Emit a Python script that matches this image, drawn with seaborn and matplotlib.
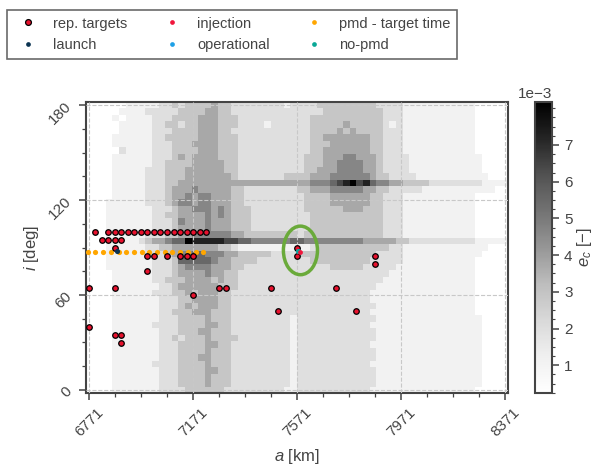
import matplotlib
matplotlib.use("Agg")
import matplotlib.pyplot as plt
import seaborn as sns
import pandas as pd
import numpy as np
from matplotlib.patches import Ellipse
from matplotlib.lines import Line2D
from matplotlib.ticker import FixedLocator, ScalarFormatter

# density map e_c, digits 0-9 mapped linearly to E_MIN..E_MAX
# rows: i from 182 (top) down to -2, 45 cells; columns: a from 6759.5 to 8382.5 km, 64 cells
DENSITY_ROWS = [
    "00000011 11122323 33343322 22222212 22233333 33332222 11111111 11100000",  # i~180
    "00000111 12222233 33443322 22222222 22223333 33333222 11111111 11100000",
    "00001011 11222333 34443332 22222222 22333333 33333222 11111111 11100000",
    "00000111 11223323 34443332 22212222 22333334 33333212 11111111 11100000",
    "00000111 11222333 34443322 22222222 22333343 43333222 11111111 11100000",
    "00001111 11223333 34443332 22222222 22334444 44433222 11111111 11100000",  # i~160
    "00001111 11222333 44443332 22222222 22333444 44433222 11111111 11100000",
    "00000211 11222333 34443332 22222222 22334444 44433222 11111111 11100000",
    "00001111 11222343 44443332 22222222 23334445 54443222 21111111 11110000",
    "00001111 11223333 44444332 22222222 23334455 55443222 21111111 11110000",
    "00001111 12223334 44444332 22222222 23344455 55443222 21111111 11110000",  # i~139
    "00001111 12223334 44444432 22222233 33444555 55543322 22111111 11111000",
    "00001111 12223344 44444444 44444444 44555678 97865544 33332222 22221111",  # i~131
    "00001111 12223444 54444433 22222222 33444555 55443322 22211111 11111100",
    "00001111 12223445 45544433 22222222 23333444 44433222 11111111 11100000",
    "00011111 12223455 45544433 22222222 23333444 44433222 11111111 11100000",  # i~119
    "00011111 11222344 55545433 32222222 23333334 44333222 11111111 11100000",
    "00011111 11223344 44545433 32222222 22333333 33333222 11111111 11100000",
    "00011111 11222354 44544433 32222222 22333333 33333222 11111111 11100000",
    "00011111 11222344 44544433 32222222 22333333 33333222 11111111 11100000",
    "00011111 12223344 55555544 33333333 23333333 33333222 11111111 11100000",  # i~98
    "00011111 23445669 88888776 65555556 65555555 55444443 32222222 22211111",  # i~94
    "00011111 12233444 44443321 11111111 11233333 33333322 11111111 11111000",  # i~90
    "00011111 12223455 66555443 33332222 33333333 33332222 11111111 11110000",
    "00011111 11222366 66654433 33222222 22333333 33322222 11111111 11100000",
    "00011111 11222345 55544433 22222222 22222333 33222221 11111111 11100000",  # i~78
    "00001111 11222344 44544332 22222222 22222222 22222211 11111111 11100000",
    "00001111 11223334 44434332 22222222 22222222 22222111 11111111 11100000",
    "00001111 11122344 44443332 22222222 22222222 22221111 11111111 11100000",
    "00001111 11222334 34443322 22222222 22222222 22211111 11111111 11100000",
    "00001111 11122233 44443322 22222222 22222222 22211111 11111111 11100000",  # i~57
    "00001111 11122234 34443322 22222222 22222222 22221111 11111111 11100000",
    "00001111 11122333 44433322 22222222 22222222 22211111 11111111 11100000",
    "00001111 11122233 33433322 22222221 22222222 22221111 11111111 11110000",
    "00001111 11222233 33443322 22222221 22222222 22211111 11111111 11110000",
    "00001111 11122233 34433322 22222221 22222222 22221111 11111111 11110000",  # i~37
    "00001111 11122323 33433332 22222221 22222222 22221111 11111111 11110000",
    "00001111 11122233 33443322 22222221 22222222 22211111 11111111 11110000",
    "00001111 11122233 33433322 22222221 22222222 22221111 11111111 11110000",
    "00001111 11122233 34433322 22222221 22222222 22221111 11111111 11110000",
    "00001111 11222233 33433322 22222221 22222222 22211111 11111111 11110000",  # i~16
    "00001111 11122233 33443322 22222221 22222222 22221111 11111111 11110000",
    "00001111 11122233 33433322 22222221 22222222 22221111 11111111 11110000",
    "00001111 11122233 33433322 22222221 22222222 22221111 11111111 11110000",
    "00001111 11122223 33333222 22222211 22222222 22211111 11111111 11100000",  # i~0
]
E_MIN, E_MAX = 0.24e-3, 8.17e-3

# rep. targets (a [km], i [deg])
target_a = [6796, 6846, 6871, 6896, 6921, 6946, 6971, 6996, 7021, 7046, 7071, 7096, 7121, 7146, 7171, 7196, 7221,
            6821, 6846, 6871, 6896,
            6871,
            6996, 7021, 7071, 7121, 7146, 7171,
            6996,
            6771, 6871, 7271, 7296, 7471, 7721,
            7171,
            7496, 7796,
            6771,
            6871, 6896,
            6896,
            7571, 7571, 7871, 7871]
target_i = [99.6] * 17 + \
           [94.7] * 4 + \
           [89.5] + \
           [84.6] * 6 + \
           [75.0] + \
           [64.6] * 6 + \
           [59.8] + \
           [50.0] * 2 + \
           [39.8] + \
           [34.7] * 2 + \
           [29.7] + \
           [89.9, 84.6, 84.9, 79.6]

pmd_a = [6766, 6796, 6825, 6855, 6885, 6914, 6944, 6974, 7003, 7033, 7063, 7092, 7122, 7152, 7181, 7211]
pmd_i = [87.5] * 16

launch_a, launch_i = [6880], [88.0]
injection_a, injection_i = [7582], [87.4]
operational_a, operational_i = [7576], [88.0]
nopmd_a, nopmd_i = [7574], [88.0]

C_TARGET = "#e8112d"
C_LAUNCH = "#0b3352"
C_INJ = "#f0163c"
C_OPER = "#1ea0e6"
C_PMD = "#ffa600"
C_NOPMD = "#0aa896"
C_TXT = "#444444"

sns.set_theme(style="ticks")
plt.rcParams["font.family"] = ["Liberation Sans", "DejaVu Sans"]
plt.rcParams["mathtext.fontset"] = "custom"
plt.rcParams["mathtext.rm"] = "Liberation Sans"
plt.rcParams["mathtext.it"] = "Liberation Sans:italic"

grid = np.array([[int(ch) for ch in row.replace(" ", "")] for row in DENSITY_ROWS[::-1]], dtype=float)
grid = E_MIN + grid / 9.0 * (E_MAX - E_MIN)
x_edges = np.linspace(6759.5, 8382.5, grid.shape[1] + 1)
y_edges = np.linspace(-2, 182, grid.shape[0] + 1)

fig = plt.figure(figsize=(5.95, 4.68), dpi=100)
ax = fig.add_axes([0.1445, 0.160, 0.7095, 0.622])
cax = fig.add_axes([0.899, 0.160, 0.029, 0.622])

mesh = ax.pcolormesh(x_edges, y_edges, grid, cmap="Greys", vmin=E_MIN, vmax=E_MAX, zorder=0)

df_t = pd.DataFrame({"a": target_a, "i": target_i})
sns.scatterplot(data=df_t, x="a", y="i", ax=ax, color=C_TARGET, edgecolor="black", linewidth=0.9, s=16, zorder=4, legend=False)
sns.scatterplot(x=pmd_a, y=pmd_i, ax=ax, color=C_PMD, linewidth=0, s=14, zorder=3, legend=False)
sns.scatterplot(x=launch_a, y=launch_i, ax=ax, color=C_LAUNCH, linewidth=0, s=14, zorder=5, legend=False)
sns.scatterplot(x=operational_a, y=operational_i, ax=ax, color=C_OPER, linewidth=0, s=12, zorder=5, legend=False)
sns.scatterplot(x=nopmd_a, y=nopmd_i, ax=ax, color=C_NOPMD, linewidth=0, s=12, zorder=5, legend=False)
sns.scatterplot(x=injection_a, y=injection_i, ax=ax, color=C_INJ, linewidth=0, s=12, zorder=6, legend=False)

ax.add_patch(Ellipse((7584, 88.2), width=131, height=30.7, fill=False, ec="#6aaa3a", lw=2.5, zorder=7))

ax.set_xlim(6759.5, 8382.5)
ax.set_ylim(-2, 182)
ax.set_xticks([6771, 7171, 7571, 7971, 8371])
ax.set_yticks([0, 60, 120, 180])
ax.xaxis.set_minor_locator(FixedLocator(np.arange(6771, 8372, 100)))
ax.yaxis.set_minor_locator(FixedLocator(np.arange(0, 181, 15)))
ax.tick_params(axis="both", which="major", direction="out", length=5, width=1.1, color=C_TXT, labelsize=11, labelcolor=C_TXT)
ax.tick_params(axis="both", which="minor", direction="out", length=3, width=0.9, color=C_TXT)
ax.tick_params(axis="x", labelrotation=45)
ax.tick_params(axis="y", labelrotation=45)
ax.set_axisbelow(False)
ax.grid(True, which="major", ls="--", color="#c8c8c8", lw=0.8)
for sp in ax.spines.values():
    sp.set_color(C_TXT)
    sp.set_linewidth(1.5)

ax.set_xlabel("$a$ [km]", fontsize=12, color=C_TXT, labelpad=6)
ax.set_ylabel("$i$ [deg]", fontsize=12, color=C_TXT)

cbar = fig.colorbar(mesh, cax=cax)
fmt = ScalarFormatter(useMathText=False)
fmt.set_powerlimits((0, 0))
cbar.formatter = fmt
cbar.set_ticks([1e-3, 2e-3, 3e-3, 4e-3, 5e-3, 6e-3, 7e-3])
cbar.ax.yaxis.set_minor_locator(FixedLocator(np.arange(0.25e-3, 8.2e-3, 0.25e-3)))
cbar.ax.tick_params(which="major", length=5, width=1.1, color=C_TXT, labelsize=11, labelcolor=C_TXT)
cbar.ax.tick_params(which="minor", length=2.5, width=0.8, color=C_TXT)
off = cbar.ax.yaxis.get_offset_text()
off.set_fontsize(11)
off.set_color(C_TXT)
cbar.outline.set_edgecolor(C_TXT)
cbar.outline.set_linewidth(1.5)
cbar.set_label("$e_c$ [$-$]", fontsize=12, color=C_TXT, labelpad=2)

handles = [
    Line2D([], [], ls="", marker="o", ms=4.2, mfc=C_TARGET, mec="black", mew=0.9),
    Line2D([], [], ls="", marker="o", ms=3.4, mfc=C_LAUNCH, mec="none"),
    Line2D([], [], ls="", marker="o", ms=3.4, mfc=C_INJ, mec="none"),
    Line2D([], [], ls="", marker="o", ms=3.4, mfc=C_OPER, mec="none"),
    Line2D([], [], ls="", marker="o", ms=3.4, mfc=C_PMD, mec="none"),
    Line2D([], [], ls="", marker="o", ms=3.4, mfc=C_NOPMD, mec="none"),
]
labels = ["rep. targets", "launch", "injection", "operational", "pmd - target time", "no-pmd"]
leg = fig.legend(handles, labels, ncol=3, loc="upper left", bbox_to_anchor=(0.0118, 0.9786),
                 borderaxespad=0, frameon=True, fancybox=False, edgecolor=C_TXT, fontsize=10.5,
                 columnspacing=2.05, handletextpad=0.72, borderpad=0.45, labelspacing=0.52)
leg.get_frame().set_linewidth(1.2)
for t in leg.get_texts():
    t.set_color(C_TXT)

fig.savefig("out.png", dpi=100)
